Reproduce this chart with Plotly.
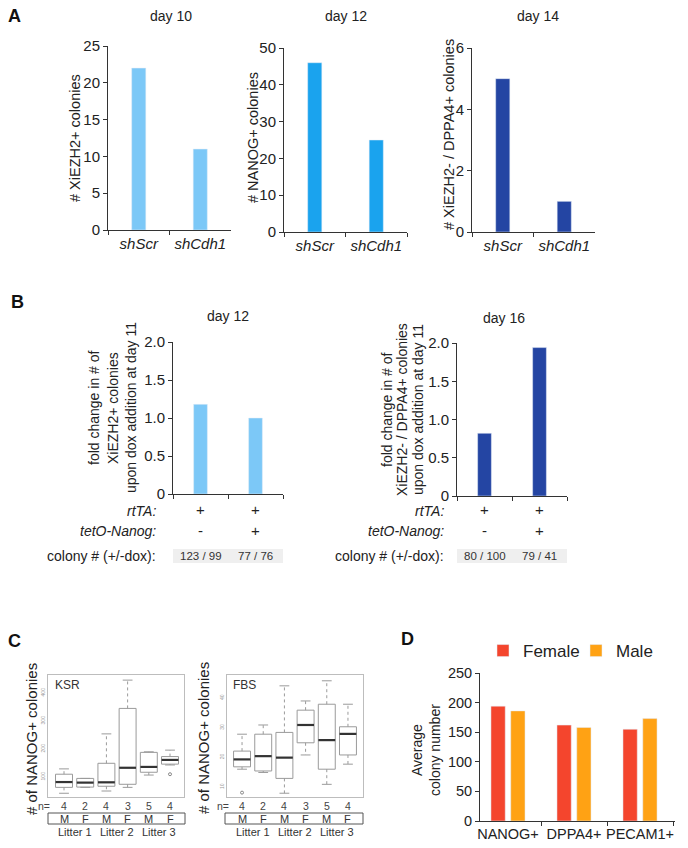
import plotly.graph_objects as go

W, H = 688, 848
FONT = "Liberation Sans, Arial, sans-serif"
TXT = "#222222"
AXC = "#333333"

# ---------------- data ----------------
# Panel A
a_groups = ["shScr", "shCdh1"]
a10_vals = [22, 11]
a12_vals = [46, 25]
a14_vals = [5, 1]

# Panel B
b_conditions = ["rtTA", "rtTA + tetO-Nanog"]
b12_vals = [1.18, 1.0]
b16_vals = [0.82, 1.94]
b_rtta = ["+", "+"]
b_teto = ["-", "+"]
b12_colony = ["123 / 99", "77 / 76"]
b16_colony = ["80 / 100", "79 / 41"]
b_ticks = [0, 0.5, 1.0, 1.5, 2.0]
b_ticktext = ["0", "0.5", "1.0", "1.5", "2.0"]
b12_ytitle = ["fold change in # of", "XiEZH2+ colonies", "upon dox addition at day 11"]
b16_ytitle = ["fold change in # of", "XiEZH2- / DPPA4+ colonies", "upon dox addition at day 11"]

# Panel C
c_pos = [1, 2, 3, 4, 5, 6]
c_sex = ["M", "F", "M", "F", "M", "F"]
c_n = [4, 2, 4, 3, 5, 4]
c_litters = ["Litter 1", "Litter 2", "Litter 3"]
c_litter_pos = [1.5, 3.5, 5.5]

ksr_low = [42, 63, 50, 63, 107, 143]
ksr_q1 = [63, 64, 67, 74, 117, 146]
ksr_med = [82, 80, 81, 133, 136, 161]
ksr_q3 = [110, 95, 149, 345, 188, 173]
ksr_high = [129, 95, 254, 446, 190, 196]
ksr_out_x = [6]
ksr_out_y = [110]
ksr_ticks = [100, 200, 300, 400]

fbs_low = [16.0, 14.9, 7.9, 20.8, 10.9, 17.7]
fbs_q1 = [16.8, 15.4, 12.9, 24.9, 16.0, 20.8]
fbs_med = [19.3, 20.4, 19.9, 30.9, 25.8, 27.9]
fbs_q3 = [22.1, 27.8, 28.4, 35.9, 37.9, 30.3]
fbs_high = [27.8, 30.9, 44.1, 39.0, 45.8, 37.9]
fbs_out_x = [1]
fbs_out_y = [8.1]
fbs_ticks = [10, 20, 30, 40]

# Panel D
d_cats = ["NANOG+", "DPPA4+", "PECAM1+"]
d_female = [194, 162, 155]
d_male = [186, 158, 173]

# colours
C_LIGHT = "#7CC8F7"
C_MID = "#1AA3EE"
C_DARK = "#2445A3"
C_FEMALE = "#F4452D"
C_MALE = "#FFA214"
C_BOX = "#9a9a9a"


def xd(p0, p1):
    return [p0 / W, p1 / W]


def yd(top, bot):
    return [1 - bot / H, 1 - top / H]


def px(x):
    return x / W


def py(y):
    return 1 - y / H


fig = go.Figure()

# ---------------- Panel A ----------------
fig.add_trace(go.Bar(x=a_groups, y=a10_vals, xaxis="x", yaxis="y",
                     marker_color=C_LIGHT, width=0.23, showlegend=False))
fig.add_trace(go.Bar(x=a_groups, y=a12_vals, xaxis="x2", yaxis="y2",
                     marker_color=C_MID, width=0.23, showlegend=False))
fig.add_trace(go.Bar(x=a_groups, y=a14_vals, xaxis="x3", yaxis="y3",
                     marker_color=C_DARK, width=0.23, showlegend=False))

# ---------------- Panel B ----------------
fig.add_trace(go.Bar(x=b_conditions, y=b12_vals, xaxis="x4", yaxis="y4",
                     marker_color=C_LIGHT, width=0.25, showlegend=False))
fig.add_trace(go.Bar(x=b_conditions, y=b16_vals, xaxis="x5", yaxis="y5",
                     marker_color=C_DARK, width=0.25, showlegend=False))

# ---------------- Panel C ----------------
for xa, ya, lo, q1, med, q3, hi, ox, oy in [
    ("x6", "y6", ksr_low, ksr_q1, ksr_med, ksr_q3, ksr_high, ksr_out_x, ksr_out_y),
    ("x7", "y7", fbs_low, fbs_q1, fbs_med, fbs_q3, fbs_high, fbs_out_x, fbs_out_y),
]:
    # dotted whiskers (q3 -> upper, q1 -> lower)
    wx, wy = [], []
    for i, p in enumerate(c_pos):
        wx += [p, p, None, p, p, None]
        wy += [q3[i], hi[i], None, q1[i], lo[i], None]
    fig.add_trace(go.Scatter(x=wx, y=wy, xaxis=xa, yaxis=ya, mode="lines",
                             line=dict(color=C_BOX, width=1, dash="dot"),
                             showlegend=False, hoverinfo="skip"))
    # whisker caps
    fig.add_trace(go.Scatter(x=c_pos + c_pos, y=hi + lo, xaxis=xa, yaxis=ya,
                             mode="markers",
                             marker=dict(symbol="line-ew", size=7,
                                         line=dict(width=1, color=C_BOX)),
                             showlegend=False, hoverinfo="skip"))
    # boxes
    fig.add_trace(go.Box(x=c_pos, q1=q1, median=med, q3=q3,
                         lowerfence=q1, upperfence=q3,
                         xaxis=xa, yaxis=ya, width=0.8, whiskerwidth=0,
                         line=dict(color=C_BOX, width=1), fillcolor="rgba(255,255,255,0)",
                         boxpoints=False, showlegend=False, hoverinfo="skip"))
    # medians
    fig.add_trace(go.Scatter(x=c_pos, y=med, xaxis=xa, yaxis=ya, mode="markers",
                             marker=dict(symbol="line-ew", size=12,
                                         line=dict(width=2.2, color="#333333")),
                             showlegend=False))
    # outliers
    fig.add_trace(go.Scatter(x=ox, y=oy, xaxis=xa, yaxis=ya, mode="markers",
                             marker=dict(symbol="circle-open", size=3, color="#888",
                                         line=dict(width=1, color="#888")),
                             showlegend=False))

# ---------------- Panel D ----------------
fig.add_trace(go.Bar(x=d_cats, y=d_female, name="Female", xaxis="x8", yaxis="y8",
                     marker_color=C_FEMALE, offsetgroup="f"))
fig.add_trace(go.Bar(x=d_cats, y=d_male, name="Male", xaxis="x8", yaxis="y8",
                     marker_color=C_MALE, offsetgroup="m"))


# ---------------- axes ----------------
def bar_x(dom, rng, italic=False, show=True, size=15):
    return dict(domain=dom, type="category", range=rng, tickson="boundaries",
                ticks="outside", ticklen=4, tickcolor=AXC, showline=True,
                linecolor=AXC, linewidth=1, showgrid=False, zeroline=False,
                showticklabels=show, tickangle=0, automargin=False,
                tickfont=dict(size=size, color=TXT, family=FONT,
                              style="italic" if italic else "normal"),
                fixedrange=True)


def bar_y(dom, rng, anchor, dtick=None, tickvals=None, ticktext=None, size=15):
    d = dict(domain=dom, range=rng, anchor=anchor, ticks="outside", ticklen=4,
             tickcolor=AXC, showline=True, linecolor=AXC, linewidth=1,
             showgrid=False, zeroline=False, automargin=False,
             tickfont=dict(size=size, color=TXT, family=FONT), fixedrange=True)
    if dtick is not None:
        d["dtick"] = dtick
        d["tick0"] = 0
    if tickvals is not None:
        d["tickmode"] = "array"
        d["tickvals"] = tickvals
        d["ticktext"] = ticktext
    return d


def box_x(dom, rng, anchor):
    return dict(domain=dom, range=rng, anchor=anchor, showline=True, mirror=True,
                linecolor="#bdbdbd", linewidth=1, showgrid=False, zeroline=False,
                showticklabels=False, ticks="", fixedrange=True)


def box_y(dom, rng, anchor, tickvals):
    return dict(domain=dom, range=rng, anchor=anchor, showline=True, mirror=True,
                linecolor="#bdbdbd", linewidth=1, showgrid=False, zeroline=False,
                ticks="", tickmode="array", tickvals=tickvals, tickangle=-90,
                tickfont=dict(size=5, color="#999999", family=FONT), fixedrange=True)


layout_axes = dict(
    xaxis=dict(bar_x(xd(108, 231), [-0.5, 1.5], italic=True), anchor="y"),
    yaxis=bar_y(yd(46, 230), [0, 25], "x", dtick=5),
    xaxis2=dict(bar_x(xd(284, 407), [-0.5, 1.5], italic=True), anchor="y2"),
    yaxis2=bar_y(yd(48, 232), [0, 50], "x2", dtick=10),
    xaxis3=dict(bar_x(xd(472, 595), [-0.5, 1.5], italic=True), anchor="y3"),
    yaxis3=bar_y(yd(48, 232), [0, 6], "x3", dtick=2),
    xaxis4=dict(bar_x(xd(173, 283), [-0.5, 1.5], show=False), anchor="y4"),
    yaxis4=bar_y(yd(342, 494), [0, 2], "x4", tickvals=b_ticks, ticktext=b_ticktext),
    xaxis5=dict(bar_x(xd(457, 567), [-0.5, 1.5], show=False), anchor="y5"),
    yaxis5=bar_y(yd(343, 496), [0, 2], "x5", tickvals=b_ticks, ticktext=b_ticktext),
    xaxis6=box_x(xd(48, 184), [0.245, 6.66], "y6"),
    yaxis6=box_y(yd(675, 797), [28.6, 464.3], "x6", ksr_ticks),
    xaxis7=box_x(xd(227, 363), [0.29, 6.71], "y7"),
    yaxis7=box_y(yd(675, 797), [6.63, 47.75], "x7", fbs_ticks),
    xaxis8=dict(bar_x(xd(480, 675), [-0.424, 2.53], size=14.5), anchor="y8"),
    yaxis8=bar_y(yd(673, 821), [0, 250], "x8", dtick=50, size=14.5),
)

# ---------------- annotations ----------------
ann = []


def text(x, y, s, size=14, xanchor="center", yanchor="middle", angle=0,
         bold=False, color=TXT, xref="paper", yref="paper", italic=False):
    if bold:
        s = "<b>" + s + "</b>"
    if italic:
        s = "<i>" + s + "</i>"
    ann.append(dict(x=x, y=y, xref=xref, yref=yref, text=s, showarrow=False,
                    xanchor=xanchor, yanchor=yanchor, textangle=angle,
                    font=dict(size=size, color=color, family=FONT)))


# panel letters
text(px(14), py(16), "A", size=18, bold=True, color="#111")
text(px(17), py(302), "B", size=18, bold=True, color="#111")
text(px(14), py(641), "C", size=18, bold=True, color="#111")
text(px(407), py(639), "D", size=18, bold=True, color="#111")

# panel A titles
text(px(171), py(16), "day 10", size=14)
text(px(346), py(16), "day 12", size=14)
text(px(538), py(16), "day 14", size=14)
text(px(75), py(138), "# XiEZH2+ colonies", size=14.5, angle=-90)
text(px(253), py(138), "# NANOG+ colonies", size=14.5, angle=-90)
text(px(449), py(135), "# XiEZH2- / DPPA4+ colonies", size=14.5, angle=-90)

# panel B titles
text(px(228), py(316), "day 12", size=14)
text(px(504), py(318), "day 16", size=14)
for xline, line in zip([94, 113, 131], b12_ytitle):
    text(px(xline), py(408), line, size=14, angle=-90)
for xline, line in zip([387, 402, 418], b16_ytitle):
    text(px(xline), py(410), line, size=14, angle=-90)

# panel B rows
for right, xr, colony in [(158, "x4", b12_colony), (446, "x5", b16_colony)]:
    text(px(right), py(511), "rtTA:", size=14, xanchor="right", italic=True)
    text(px(right), py(531), "tetO-Nanog:", size=14, xanchor="right", italic=True)
    text(px(right), py(556), "colony # (+/-dox):", size=14, xanchor="right")
    for i, c in enumerate(b_conditions):
        text(c, py(510), b_rtta[i], size=15, xref=xr)
        text(c, py(530), b_teto[i], size=15, xref=xr)
        text(c, py(556), colony[i], size=11.5, xref=xr, color="#333")

shapes = []
for xr in ["x4", "x5"]:
    shapes.append(dict(type="rect", xref=xr, yref="paper", x0=-0.5, x1=1.5,
                       y0=py(563), y1=py(549), fillcolor="#efefef", line=dict(width=0),
                       layer="below"))

# panel C
text(px(31), py(739), "# of NANOG+ colonies", size=15, angle=-90)
text(px(203), py(738), "# of NANOG+ colonies", size=15, angle=-90)
text(px(53), py(685), "KSR", size=12, xanchor="left", color="#333")
text(px(231), py(685), "FBS", size=12, xanchor="left", color="#333")
for xr, nx in [("x6", 44), ("x7", 223)]:
    text(px(nx), py(806), "n=", size=10.5, color="#444")
    for i, p in enumerate(c_pos):
        text(p, py(806), str(c_n[i]), size=10.5, xref=xr, color="#444")
        text(p, py(818.5), c_sex[i], size=11, xref=xr, color="#333")
    for i, p in enumerate(c_litter_pos):
        text(p, py(832), c_litters[i], size=11, xref=xr, color="#333")

for x0, x1 in [(48, 185), (225, 363)]:
    shapes.append(dict(type="rect", xref="paper", yref="paper", x0=px(x0), x1=px(x1),
                       y0=py(824), y1=py(813), line=dict(color="#555", width=1)))

# panel D
text(px(417), py(750), "Average", size=14, angle=-90)
text(px(435), py(750), "colony number", size=14, angle=-90)

fig.update_layout(
    width=W, height=H,
    margin=dict(l=0, r=0, t=0, b=0),
    paper_bgcolor="white", plot_bgcolor="white",
    font=dict(family=FONT, color=TXT),
    barmode="group", bargap=0.4, bargroupgap=0.28,
    showlegend=True,
    legend=dict(orientation="h", x=px(483), y=py(633), xanchor="left", yanchor="top",
                font=dict(size=17, color=TXT, family=FONT), bgcolor="rgba(0,0,0,0)",
                traceorder="normal", itemclick=False, entrywidth=48,
                entrywidthmode="pixels"),
    annotations=ann,
    shapes=shapes,
    **layout_axes,
)

fig.write_html("out.html", config={"displayModeBar": False},
               post_script="document.body.style.margin='0px';document.body.style.overflow='hidden';")
